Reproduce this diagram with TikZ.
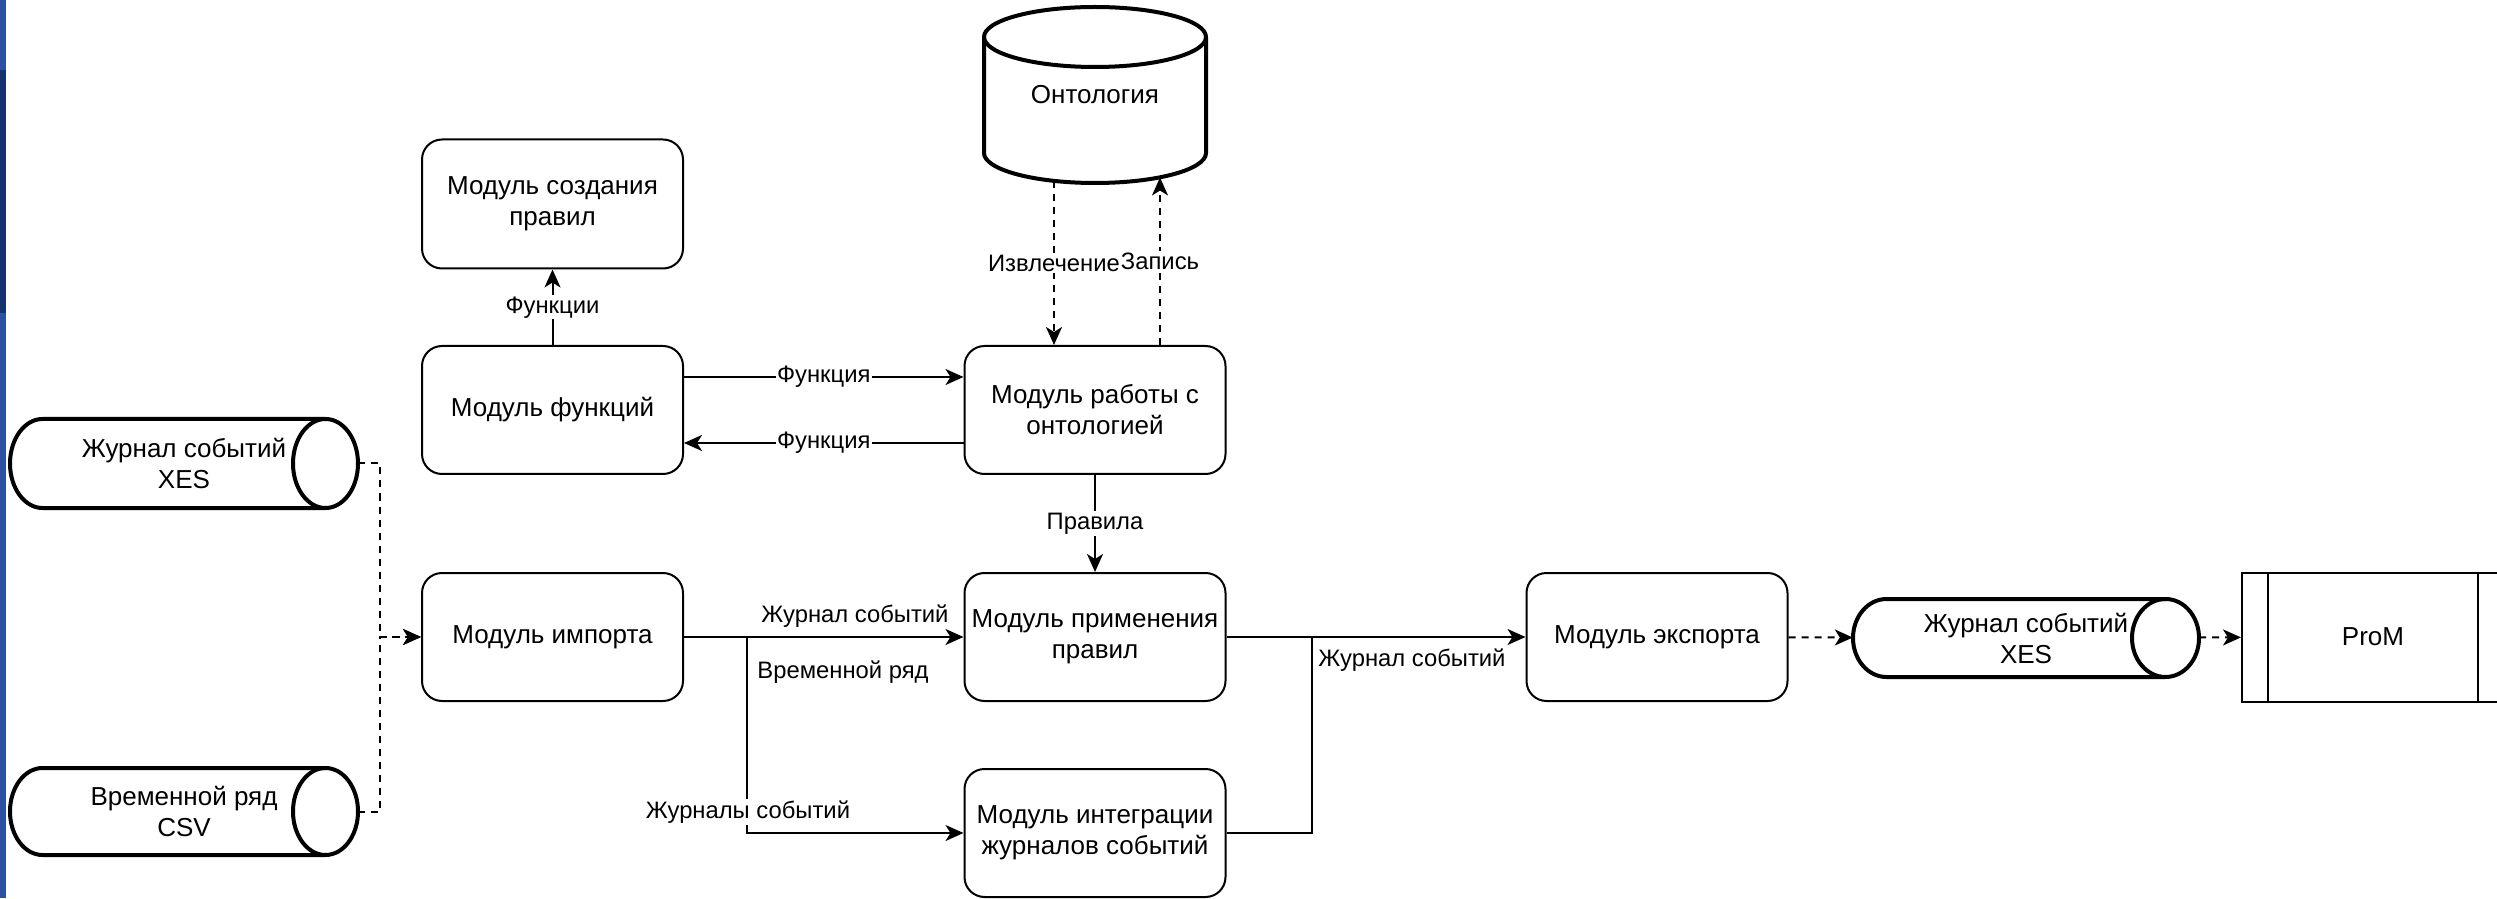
\documentclass[tikz,border=0pt]{standalone}
\usepackage{fontspec}
\setmainfont{Liberation Sans}
\usetikzlibrary{arrows.meta}
\definecolor{barblue}{RGB}{42,82,160}
\definecolor{bardark}{RGB}{21,49,112}
\newcommand\modfont{\fontsize{26}{31}\selectfont}
\newcommand\lblfont{\fontsize{23.8}{28}\selectfont}
% horizontal data cylinder: left x, right x, centre y, half height, cap radius
\newcommand\hcyl[5]{%
  \draw[cylline] (#1+#5,#3+#4) -- (#2-#5,#3+#4)
    arc[start angle=90,end angle=-90,x radius=#5,y radius=#4]
    -- (#1+#5,#3-#4)
    arc[start angle=270,end angle=90,x radius=#5,y radius=#4] -- cycle;
  \draw[cylline] (#2-#5,#3+#4) arc[start angle=90,end angle=270,x radius=#5,y radius=#4];
}
\begin{document}
\begin{tikzpicture}[x=1pt,y=1pt,
  module/.style={draw, line width=2pt, rounded corners=20pt, minimum width=261pt,
    minimum height=128pt, align=center, inner sep=0pt, font=\modfont},
  store/.style={draw=none, align=center, inner sep=0pt, font=\modfont},
  cylline/.style={line width=4pt, line join=round},
  lbl/.style={fill=white, inner sep=1.5pt, font=\lblfont},
  freelbl/.style={inner sep=1pt, font=\lblfont},
  arr/.style={line width=2pt, -{Stealth[length=18pt,width=16pt,inset=5pt]}},
  plain/.style={line width=2pt},
  dasharr/.style={line width=2pt, dash pattern=on 7pt off 6pt,
    -{Stealth[length=18pt,width=16pt,inset=5pt]}}
]
\clip (0,0) rectangle (2497,898);
\fill[white] (0,0) rectangle (2497,898);
% side bar
\fill[barblue] (0,0) rectangle (6,898);
\fill[bardark] (0,585) rectangle (6,828);

% modules
\node[module, minimum height=129pt] (create) at (552.5,694) {Модуль создания\\правил};
\node[module] (func)   at (552.5,488) {Модуль функций};
\node[module] (imp)    at (552.5,261) {Модуль импорта};
\node[module] (onto)   at (1095,488)  {Модуль работы с\\онтологией};
\node[module] (apply)  at (1095,261)  {Модуль применения\\правил};
\node[module] (integ)  at (1095,65)   {Модуль интеграции\\журналов событий};
\node[module] (export) at (1657,261)  {Модуль экспорта};

% ProM (process box with side bars)
\node[draw, line width=2pt, minimum width=262pt, minimum height=129pt,
  inner sep=0pt, font=\modfont] (prom) at (2373,261) {ProM};
\draw[plain] ([xshift=27pt]prom.north west) -- ([xshift=27pt]prom.south west);
\draw[plain] ([xshift=-27pt]prom.north east) -- ([xshift=-27pt]prom.south east);

% ontology store
\node[store, minimum width=222pt, minimum height=176pt] (ontology) at (1095,803) {Онтология};
\draw[cylline] (984,861) -- (984,745)
  arc[start angle=180,end angle=360,x radius=111,y radius=30]
  -- (1206,861) arc[start angle=0,end angle=180,x radius=111,y radius=30] -- cycle;
\draw[cylline] (984,861) arc[start angle=180,end angle=360,x radius=111,y radius=30];

% input and output logs
\node[store, minimum width=348pt, minimum height=89pt] (xesin) at (184,434.5) {Журнал событий\\XES};
\hcyl{10}{358}{434.5}{44.5}{32.5}
\node[store, minimum width=348pt, minimum height=87pt] (csvin) at (184,86.5) {Временной ряд\\CSV};
\hcyl{10}{358}{86.5}{43.5}{32.5}
\node[store, minimum width=346pt, minimum height=78pt] (xesout) at (2026,260) {Журнал событий\\XES};
\hcyl{1853}{2199}{260}{39}{33.5}

% import paths
\draw[dasharr] (xesin.east) -- ++(22,0) |- (imp.west);
\draw[dasharr] (csvin.east) -- ++(22,0) |- (imp.west);

% function exchange
\draw[arr] (func) -- node[lbl] (lfn) {Функции} (create);
\draw[arr] ([yshift=33pt]func.east) -- node[lbl] (lf1) {Функция} ([yshift=33pt]onto.west);
\draw[arr] ([yshift=-33pt]onto.west) -- node[lbl] (lf2) {Функция} ([yshift=-33pt]func.east);

% ontology access
\draw[dasharr] ([xshift=-41pt,yshift=2pt]ontology.south) -- node[lbl] (lex) {Извлечение} ([xshift=-41pt]onto.north);
\draw[dasharr] ([xshift=65pt]onto.north) -- node[lbl] (lwr) {Запись} ([xshift=65pt,yshift=5.7pt]ontology.south);

% rules
\draw[arr] (onto) -- node[lbl] (lru) {Правила} (apply);

% import to processing
\coordinate (br) at (747,261);
\draw[arr] (imp) -- (apply);
\draw[arr] (br) |- (integ);
\node[freelbl] (ljs) at (855,282) {Журнал событий};
\node[freelbl] (lts) at (843,226) {Временной ряд};
\node[lbl] (ljss) at (748,86) {Журналы событий};

% processing to export
\coordinate (jn) at (1312,261);
\draw[arr] (apply) -- (export);
\draw[plain] (integ.east) -| (jn);
\node[freelbl] (lout) at (1412,238) {Журнал событий};

% export chain
\draw[dasharr] (export) -- (xesout);
\draw[dasharr] (xesout) -- (prom);
\end{tikzpicture}
\end{document}
